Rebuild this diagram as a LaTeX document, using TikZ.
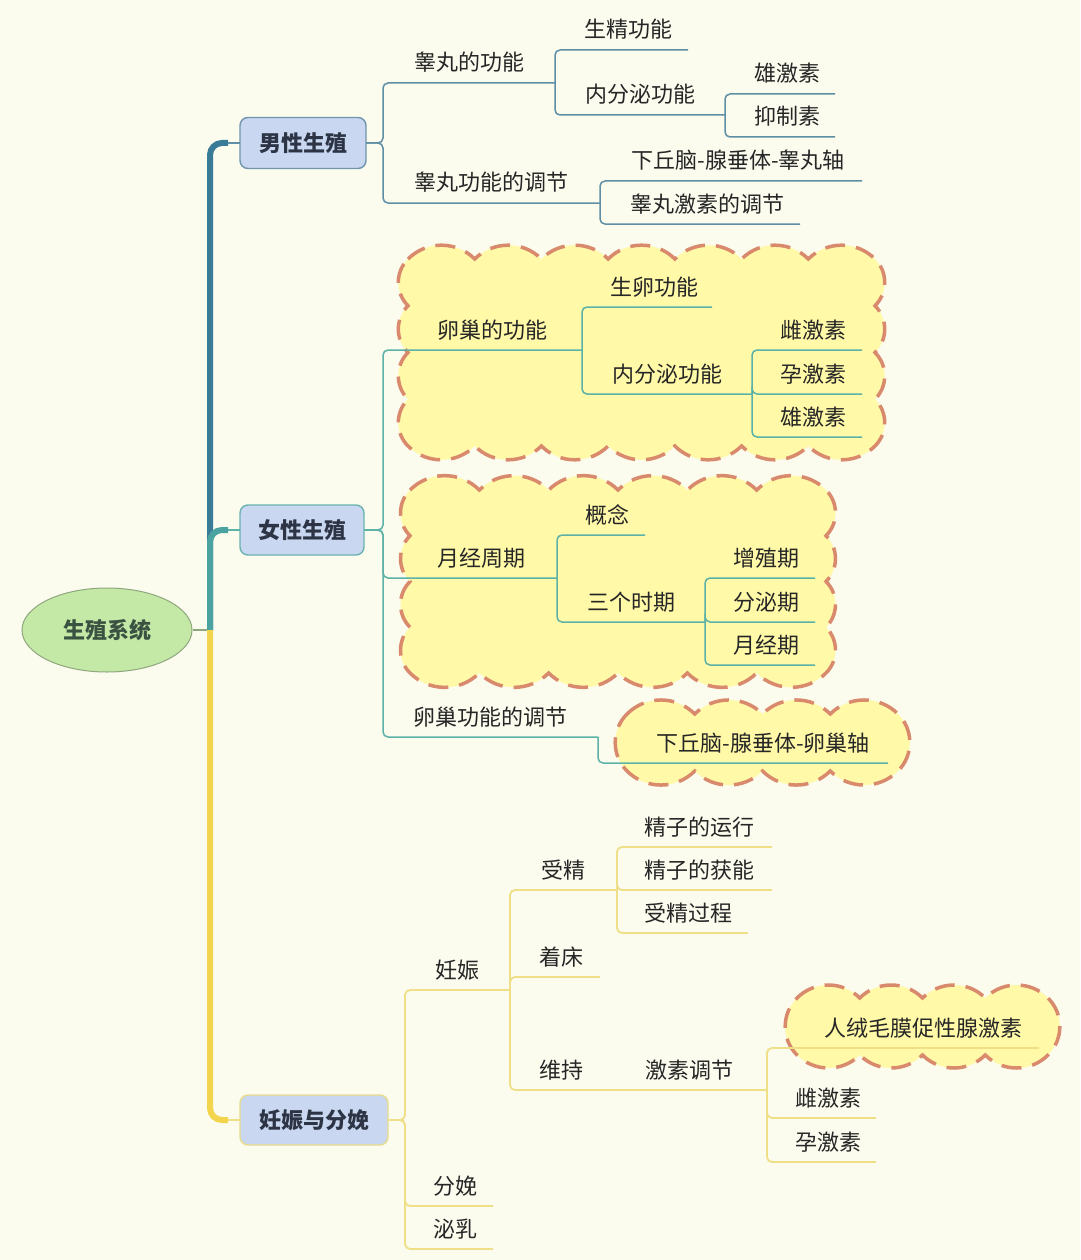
\documentclass[tikz,border=0pt]{standalone}
\usepackage{fontspec}
\setmainfont{Noto Sans CJK SC}
\usetikzlibrary{shapes.geometric}
\definecolor{paper}{HTML}{FBFBEE}
\definecolor{ink}{HTML}{262626}
\definecolor{boxink}{HTML}{2C3445}
\definecolor{boxblue}{HTML}{C9D8F0}
\definecolor{rootgreen}{HTML}{C4E8A6}
\definecolor{rootedge}{HTML}{8FA77E}
\definecolor{rootink}{HTML}{3A5242}
\definecolor{maletrunk}{HTML}{3A7C97}
\definecolor{maleline}{HTML}{5E8FA5}
\definecolor{maleedge}{HTML}{7095AD}
\definecolor{femtrunk}{HTML}{4AA3A0}
\definecolor{femline}{HTML}{5DB2A8}
\definecolor{femedge}{HTML}{6BB3B0}
\definecolor{pregtrunk}{HTML}{F2D54C}
\definecolor{pregline}{HTML}{EFDF86}
\definecolor{pregedge}{HTML}{E8DC8A}
\definecolor{cloudfill}{HTML}{FFF9A8}
\definecolor{cloudedge}{HTML}{D98A6C}

% scalloped patch: x0 y0 x1 y1 (inner box), bumps across, bumps down
\newcommand{\cloudpatch}[6]{%
  \pgfmathsetmacro{\rw}{(#3-#1)/#5/sqrt(2)}
  \pgfmathsetmacro{\rh}{(#4-#2)/#6/sqrt(2)}
  \filldraw[cloudline] (#1,#4)
    \foreach \i in {1,...,#5}{ arc[start angle=135, end angle=45, radius=\rw pt] }
    \foreach \i in {1,...,#6}{ arc[start angle=45, end angle=-45, radius=\rh pt] }
    \foreach \i in {1,...,#5}{ arc[start angle=-45, end angle=-135, radius=\rw pt] }
    \foreach \i in {1,...,#6}{ arc[start angle=-135, end angle=-225, radius=\rh pt] }
    -- cycle;
}

\begin{document}
\begin{tikzpicture}[
    x=1pt, y=1pt,
    every node/.style={font=\fontsize{22}{26}\selectfont, text=ink},
    topic/.style={anchor=south west, inner xsep=0pt, inner ysep=7pt, outer sep=0pt,
      text height=17pt, text depth=5pt},
    pad/.style={execute at begin node={\hspace*{#1}}},
    mainbox/.style={draw, fill=boxblue, rounded corners=8pt, line width=1.4pt,
      inner sep=0pt, outer sep=0pt, font=\fontsize{22}{26}\selectfont\bfseries, text=boxink},
    cloudline/.style={fill=cloudfill, draw=cloudedge, line width=3.5pt,
      dash pattern=on 20pt off 11pt},
    maleln/.style={draw=maleline, line width=1.5pt, rounded corners=5pt},
    femln/.style={draw=femline, line width=1.5pt, rounded corners=5pt},
    pregln/.style={draw=pregline, line width=1.8pt, rounded corners=5pt},
    trunk/.style={line width=6pt, rounded corners=12pt},
  ]

  % Background
  \fill[paper] (0,0) rectangle (1080,-1260);
  \useasboundingbox (0,0) rectangle (1080,-1260);

  % === Highlight clouds ===
  \cloudpatch{408}{-446}{875}{-259}{7}{4}
  \cloudpatch{410}{-673}{826}{-490}{6}{4}
  \cloudpatch{627}{-771}{898}{-714}{4}{1}
  \cloudpatch{797}{-1055}{1048}{-998}{4}{1}

  % === Root and main branches ===
  \node[ellipse, draw=rootedge, fill=rootgreen, line width=1pt, minimum width=170pt,
    minimum height=84pt, inner sep=0pt, font=\fontsize{22}{26}\selectfont\bfseries,
    text=rootink] (root) at (107,-630) {生殖系统};
  \coordinate (hub) at (210,-630);

  \node[mainbox, draw=maleedge, minimum width=126pt, minimum height=51pt] (male) at (303,-143) {男性生殖};
  \node[mainbox, draw=femedge, minimum width=124pt, minimum height=50pt] (female) at (302,-530) {女性生殖};
  \node[mainbox, draw=pregedge, minimum width=148pt, minimum height=50pt] (preg) at (314,-1120) {妊娠与分娩};

  \draw[draw=rootedge, line width=1.2pt] (root.east) -- (hub);
  \draw[trunk, maletrunk] (hub) |- ([xshift=-12pt]male.west);
  \draw[maleln] ([xshift=-12pt]male.west) -- (male.west);
  \draw[trunk, femtrunk] (hub) |- ([xshift=-12pt]female.west);
  \draw[femln] ([xshift=-12pt]female.west) -- (female.west);
  \draw[trunk, pregtrunk] (hub) |- ([xshift=-12pt]preg.west);
  \draw[pregln] ([xshift=-12pt]preg.west) -- (preg.west);

  % === Male ===
  \node[topic, minimum width=172pt] (tfun) at (383,-83) {睾丸的功能};
  \node[topic, minimum width=217pt] (treg) at (383,-203) {睾丸功能的调节};
  \node[topic, pad=14pt, minimum width=133pt] (sperm) at (555,-50) {生精功能};
  \node[topic, minimum width=170pt] (tendo) at (555,-115) {内分泌功能};
  \node[topic, pad=14pt, minimum width=110pt] (andro) at (725,-94) {雄激素};
  \node[topic, pad=14pt, minimum width=110pt] (inhib) at (725,-137) {抑制素};
  \node[topic, pad=14pt, minimum width=262pt] (hpt) at (600,-181) {下丘脑-腺垂体-睾丸轴};
  \node[topic, pad=14pt, minimum width=200pt] (thorm) at (600,-224) {睾丸激素的调节};

  \draw[maleln] (male.east) -| (tfun.south west) -- (tfun.south east);
  \draw[maleln] (male.east) -| (treg.south west) -- (treg.south east);
  \draw[maleln] (tfun.south east) |- (sperm.south east);
  \draw[maleln] (tfun.south east) |- (tendo.south east);
  \draw[maleln] (tendo.south east) |- (andro.south east);
  \draw[maleln] (tendo.south east) |- (inhib.south east);
  \draw[maleln] (treg.south east) |- (hpt.south east);
  \draw[maleln] (treg.south east) |- (thorm.south east);

  % === Female ===
  \node[topic, pad=20pt, minimum width=199pt] (ofun) at (383,-350) {卵巢的功能};
  \node[topic, pad=22pt, minimum width=174pt] (cycle) at (383,-578) {月经周期};
  \node[topic, minimum width=215pt] (oreg) at (383,-737) {卵巢功能的调节};
  \node[topic, pad=14pt, minimum width=130pt] (ovul) at (582,-307) {生卵功能};
  \node[topic, minimum width=170pt] (oendo) at (582,-394) {内分泌功能};
  \node[topic, pad=12pt, minimum width=110pt] (estro) at (752,-350) {雌激素};
  \node[topic, pad=12pt, minimum width=110pt] (proge) at (752,-394) {孕激素};
  \node[topic, pad=12pt, minimum width=110pt] (fandro) at (752,-437) {雄激素};
  \node[topic, pad=12pt, minimum width=88pt] (concept) at (557,-535) {概念};
  \node[topic, minimum width=148pt] (phases) at (557,-622) {三个时期};
  \node[topic, pad=12pt, minimum width=110pt] (prolif) at (705,-578) {增殖期};
  \node[topic, pad=12pt, minimum width=110pt] (secret) at (705,-622) {分泌期};
  \node[topic, pad=12pt, minimum width=110pt] (menses) at (705,-665) {月经期};
  \node[topic, pad=40pt, minimum width=290pt] (hpo) at (598,-763) {下丘脑-腺垂体-卵巢轴};

  \draw[femln] (female.east) -| (ofun.south west) -- (ofun.south east);
  \draw[femln] (female.east) -| (cycle.south west) -- (cycle.south east);
  \draw[femln] (female.east) -| (oreg.south west) -- (oreg.south east);
  \draw[femln] (ofun.south east) |- (ovul.south east);
  \draw[femln] (ofun.south east) |- (oendo.south east);
  \draw[femln] (oendo.south east) |- (estro.south east);
  \draw[femln] (oendo.south east) |- (proge.south east);
  \draw[femln] (oendo.south east) |- (fandro.south east);
  \draw[femln] (cycle.south east) |- (concept.south east);
  \draw[femln] (cycle.south east) |- (phases.south east);
  \draw[femln] (phases.south east) |- (prolif.south east);
  \draw[femln] (phases.south east) |- (secret.south east);
  \draw[femln] (phases.south east) |- (menses.south east);
  \draw[femln] (oreg.south east) |- (hpo.south east);

  % === Pregnancy and delivery ===
  \node[topic, minimum width=105pt] (gest) at (405,-990) {妊娠};
  \node[topic, pad=12pt, minimum width=88pt] (birth) at (405,-1206) {分娩};
  \node[topic, pad=12pt, minimum width=88pt] (lact) at (405,-1249) {泌乳};
  \node[topic, minimum width=107pt] (fert) at (510,-890) {受精};
  \node[topic, pad=12pt, minimum width=90pt] (implant) at (510,-977) {着床};
  \node[topic, minimum width=102pt] (maint) at (510,-1090) {维持};
  \node[topic, pad=10pt, minimum width=155pt] (transp) at (617,-847) {精子的运行};
  \node[topic, pad=10pt, minimum width=155pt] (capac) at (617,-890) {精子的获能};
  \node[topic, pad=12pt, minimum width=131pt] (fproc) at (617,-933) {受精过程};
  \node[topic, minimum width=155pt] (hreg) at (612,-1090) {激素调节};
  \node[topic, pad=40pt, minimum width=272pt] (hcg) at (767,-1048) {人绒毛膜促性腺激素};
  \node[topic, pad=14pt, minimum width=109pt] (pestro) at (767,-1118) {雌激素};
  \node[topic, pad=14pt, minimum width=109pt] (pproge) at (767,-1162) {孕激素};

  \draw[pregln] (preg.east) -| (gest.south west) -- (gest.south east);
  \draw[pregln] (preg.east) -| (birth.south west) -- (birth.south east);
  \draw[pregln] (preg.east) -| (lact.south west) -- (lact.south east);
  \draw[pregln] (gest.south east) |- (fert.south east);
  \draw[pregln] (gest.south east) |- (implant.south east);
  \draw[pregln] (gest.south east) |- (maint.south east);
  \draw[pregln] (fert.south east) |- (transp.south east);
  \draw[pregln] (fert.south east) |- (capac.south east);
  \draw[pregln] (fert.south east) |- (fproc.south east);
  \draw[pregln] (maint.south east) -- (hreg.south east);
  \draw[pregln] (hreg.south east) |- (hcg.south east);
  \draw[pregln] (hreg.south east) |- (pestro.south east);
  \draw[pregln] (hreg.south east) |- (pproge.south east);

\end{tikzpicture}
\end{document}
